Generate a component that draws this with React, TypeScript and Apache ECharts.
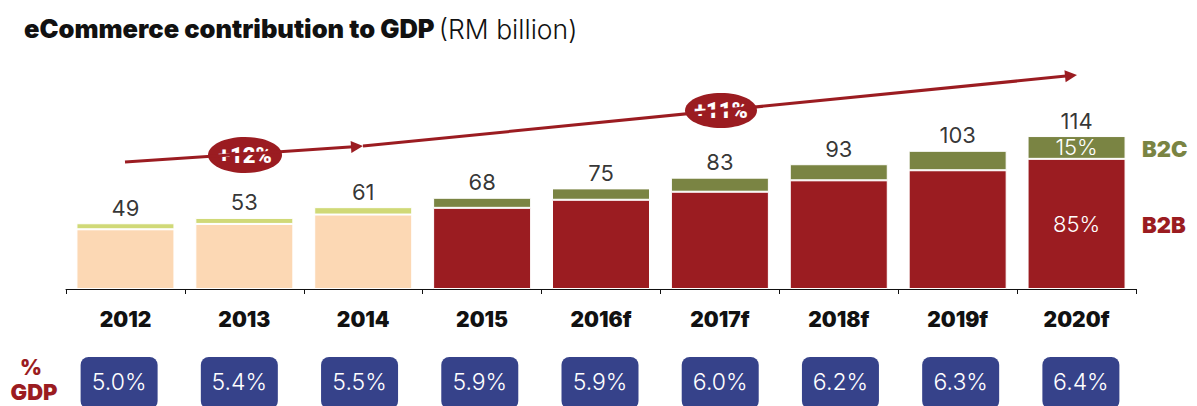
import React, { useEffect, useRef } from "react";
import * as echarts from "echarts";

const categories = ["2012", "2013", "2014", "2015", "2016f", "2017f", "2018f", "2019f", "2020f"];
const totals = [49, 53, 61, 68, 75, 83, 93, 103, 114];
const b2c = [4.5, 4.5, 5.5, 7.5, 8.5, 10.5, 12, 14.5, 17];
const b2b = [44.5, 48.5, 55.5, 60.5, 66.5, 72.5, 81, 88.5, 97];
const gdpShare = ["5.0%", "5.4%", "5.5%", "5.9%", "5.9%", "6.0%", "6.2%", "6.3%", "6.4%"];
const paleYears = 3;
const b2cShareLabel = "15%";
const b2bShareLabel = "85%";

const RED = "#9B1C21";
const OLIVE = "#7A8443";
const PALE_RED = "#FCD8B4";
const PALE_OLIVE = "#D0D977";
const BLUE = "#36428A";
const FONT = "Inter, 'Noto Sans', sans-serif";
const BADGE_FONT = "Roboto, Inter, sans-serif";

export default function App() {
  const ref = useRef<HTMLDivElement>(null);
  useEffect(() => {
    if (!ref.current) return;
    const chart = echarts.init(ref.current, null, { renderer: "svg" });
    const last = categories.length - 1;
    const option: any = {
      animation: false,
      backgroundColor: "#fff",
      textStyle: { fontFamily: FONT },
      title: {
        left: 19,
        top: 10,
        text: "{b|eCommerce contribution to GDP} {l|(RM billion)}",
        textStyle: {
          rich: {
            b: { fontFamily: FONT, fontWeight: 900, fontSize: 25.5, color: "#111", letterSpacing: -0.3 },
            l: { fontFamily: FONT, fontWeight: 300, fontSize: 26.5, color: "#111" },
          },
        },
      },
      grid: [
        { left: 66, right: 61, top: 128, height: 161 },
        { left: 59, right: 56, top: 357, height: 49 },
      ],
      xAxis: [
        {
          type: "category",
          gridIndex: 0,
          data: categories,
          axisLine: { lineStyle: { color: "#111", width: 1 } },
          axisTick: { show: true, length: 5, lineStyle: { color: "#111" } },
          axisLabel: {
            margin: 20,
            fontFamily: FONT,
            fontWeight: 900,
            fontSize: 21,
            color: "#111",
          },
        },
        { type: "category", gridIndex: 1, data: categories, show: false },
      ],
      yAxis: [
        { type: "value", gridIndex: 0, min: 0, max: 120, show: false },
        { type: "value", gridIndex: 1, min: 0, max: 1, show: false },
      ],
      series: [
        {
          name: "B2B",
          type: "bar",
          stack: "total",
          barWidth: 98,
          xAxisIndex: 0,
          yAxisIndex: 0,
          itemStyle: { color: RED, borderColor: "#fff", borderWidth: 1 },
          data: b2b.map((v, i) => ({
            value: v,
            itemStyle: { color: i < paleYears ? PALE_RED : RED },
            label:
              i === last
                ? {
                    show: true,
                    position: "inside",
                    formatter: b2bShareLabel,
                    color: "#fff",
                    fontFamily: FONT,
                    fontSize: 22,
                    fontWeight: 300,
                  }
                : { show: false },
          })),
        },
        {
          name: "B2C",
          type: "bar",
          stack: "total",
          barWidth: 98,
          xAxisIndex: 0,
          yAxisIndex: 0,
          itemStyle: { color: OLIVE, borderColor: "#fff", borderWidth: 1 },
          data: b2c.map((v, i) => ({
            value: v,
            itemStyle: { color: i < paleYears ? PALE_OLIVE : OLIVE },
            label:
              i === last
                ? {
                    show: true,
                    position: "inside",
                    formatter: b2cShareLabel,
                    color: "#fff",
                    fontFamily: FONT,
                    fontSize: 22,
                    fontWeight: 300,
                  }
                : { show: false },
          })),
        },
        {
          name: "Total",
          type: "scatter",
          xAxisIndex: 0,
          yAxisIndex: 0,
          symbolSize: 1,
          itemStyle: { color: "rgba(0,0,0,0)" },
          z: 5,
          label: {
            show: true,
            position: "top",
            distance: 4,
            color: "#000",
            fontFamily: FONT,
            fontSize: 22,
            fontWeight: 400,
            formatter: (p: any) => String(p.value[1]),
          },
          data: totals.map((v, i) => [i, v]),
          markLine: {
            silent: true,
            symbol: ["none", "triangle"],
            symbolSize: [12, 12],
            lineStyle: { color: RED, width: 3, type: "solid" },
            label: { show: false },
            data: [
              [{ x: 125, y: 162 }, { x: 357, y: 146.5 }],
              [{ x: 363, y: 146 }, { x: 1071, y: 75.6 }],
            ],
          },
        },
        {
          name: "% GDP",
          type: "custom",
          xAxisIndex: 1,
          yAxisIndex: 1,
          data: gdpShare.map((s, i) => [i, 1, s]),
          renderItem: (params: any, api: any) => {
            const idx = params.dataIndex;
            const c = api.coord([api.value(0), 1]);
            const w = 77;
            return {
              type: "group",
              children: [
                {
                  type: "rect",
                  shape: { x: c[0] - w / 2, y: c[1], width: w, height: 52, r: 8 },
                  style: { fill: BLUE },
                },
                {
                  type: "text",
                  x: c[0],
                  y: c[1] + 25,
                  style: {
                    text: gdpShare[idx],
                    fill: "#fff",
                    align: "center",
                    verticalAlign: "middle",
                    fontFamily: FONT,
                    fontSize: 23,
                    fontWeight: 300,
                  },
                },
              ],
            };
          },
        },
      ],
      graphic: [
        {
          type: "group",
          z: 100,
          children: [
            { type: "ellipse", shape: { cx: 245, cy: 155, rx: 37, ry: 18 }, style: { fill: RED } },
            {
              type: "text",
              x: 245,
              y: 155,
              style: {
                text: "+12%",
                fill: "#fff",
                align: "center",
                verticalAlign: "middle",
                fontFamily: BADGE_FONT,
                fontWeight: 900,
                fontSize: 22,
              },
            },
            { type: "ellipse", shape: { cx: 721, cy: 110.5, rx: 36, ry: 17.5 }, style: { fill: RED } },
            {
              type: "text",
              x: 721,
              y: 110.5,
              style: {
                text: "+11%",
                fill: "#fff",
                align: "center",
                verticalAlign: "middle",
                fontFamily: BADGE_FONT,
                fontWeight: 900,
                fontSize: 22,
              },
            },
            {
              type: "text",
              x: 1142,
              y: 149,
              style: {
                text: "B2C",
                fill: OLIVE,
                verticalAlign: "middle",
                fontFamily: FONT,
                fontWeight: 900,
                fontSize: 22,
              },
            },
            {
              type: "text",
              x: 1142,
              y: 225,
              style: {
                text: "B2B",
                fill: RED,
                verticalAlign: "middle",
                fontFamily: FONT,
                fontWeight: 900,
                fontSize: 22,
              },
            },
            {
              type: "text",
              x: 31,
              y: 367,
              style: {
                text: "%",
                fill: RED,
                align: "center",
                verticalAlign: "middle",
                fontFamily: FONT,
                fontWeight: 900,
                fontSize: 21,
              },
            },
            {
              type: "text",
              x: 34,
              y: 392,
              style: {
                text: "GDP",
                fill: RED,
                align: "center",
                verticalAlign: "middle",
                fontFamily: FONT,
                fontWeight: 900,
                fontSize: 22,
              },
            },
          ],
        },
      ],
    };
    chart.setOption(option);
    return () => chart.dispose();
  }, []);
  return (
    <div
      ref={ref}
      style={{ position: "fixed", left: 0, top: 0, width: 1197, height: 406, background: "#fff" }}
    />
  );
}
